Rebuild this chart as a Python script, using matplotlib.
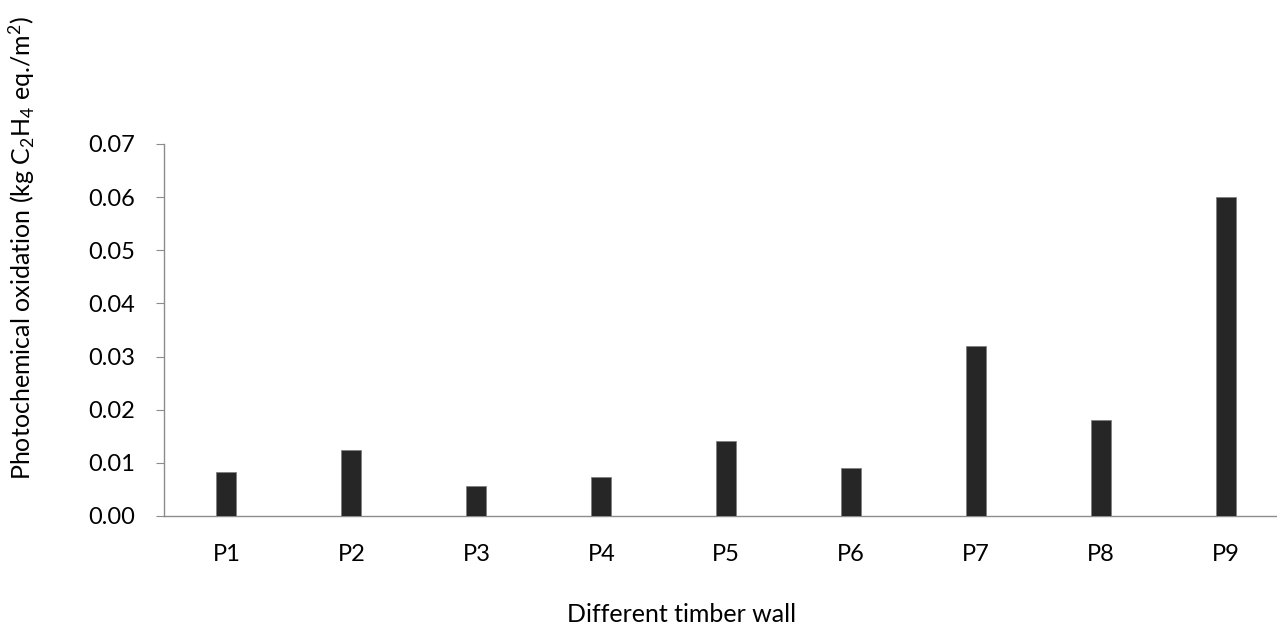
import matplotlib
matplotlib.use("Agg")
import matplotlib.pyplot as plt

categories = ["P1", "P2", "P3", "P4", "P5", "P6", "P7", "P8", "P9"]
values = [0.0083, 0.0124, 0.0057, 0.0073, 0.0142, 0.0090, 0.0320, 0.0180, 0.0600]
yticks = [0.00, 0.01, 0.02, 0.03, 0.04, 0.05, 0.06, 0.07]

plt.rcParams['font.family'] = ['Lato', 'DejaVu Sans']
plt.rcParams['mathtext.fontset'] = 'custom'
plt.rcParams['mathtext.rm'] = 'Lato'
plt.rcParams['mathtext.it'] = 'Lato'
plt.rcParams['mathtext.bf'] = 'Lato'

W, H = 1277, 628
fig = plt.figure(figsize=(W / 100, H / 100), dpi=100)
left = 164 / W
right = 1288.6 / W
bottom = 1 - 516 / H
top = 1 - 144 / H
ax = fig.add_axes([left, bottom, right - left, top - bottom])

x = list(range(len(categories)))
ax.bar(x, values, width=0.16, color='#262626', edgecolor='#7f7f7f', linewidth=0.6, zorder=3)

ax.set_xlim(-0.5, len(categories) - 0.5)
ax.set_ylim(0, 0.07)
ax.set_yticks(yticks)
ax.set_yticklabels([f"{v:.2f}" for v in yticks])
ax.set_xticks(x)
ax.set_xticklabels(categories)

axis_color = '#8c8c8c'
for s in ['top', 'right']:
    ax.spines[s].set_visible(False)
for s in ['left', 'bottom']:
    ax.spines[s].set_color(axis_color)
    ax.spines[s].set_linewidth(1.0)

ax.tick_params(axis='y', direction='out', length=6, color=axis_color, labelsize=17, pad=15, labelcolor='black')
ax.tick_params(axis='x', length=0, labelsize=17, pad=20, labelcolor='black')

fig.text(682 / W, 1 - 614 / H, 'Different timber wall', ha='center', va='center', fontsize=18)
fig.text(22 / W, 1 - 248 / H, 'Photochemical oxidation (kg C$_2$H$_4$ eq./m$^2$)',
         rotation=90, ha='center', va='center', fontsize=18)

fig.savefig('out.png', dpi=100)
